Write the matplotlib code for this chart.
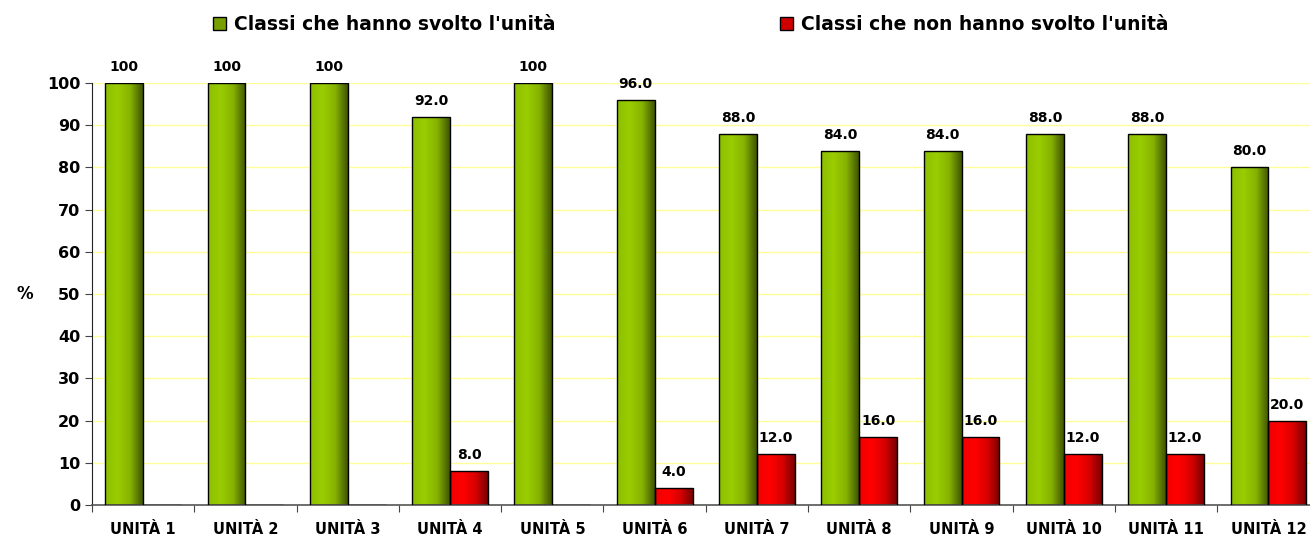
import numpy as np
import matplotlib
matplotlib.use('Agg')
import matplotlib.pyplot as plt
from matplotlib.colors import LinearSegmentedColormap
from matplotlib.patches import Patch

# dati
unita = ['UNITÀ 1', 'UNITÀ 2', 'UNITÀ 3', 'UNITÀ 4', 'UNITÀ 5', 'UNITÀ 6',
         'UNITÀ 7', 'UNITÀ 8', 'UNITÀ 9', 'UNITÀ 10', 'UNITÀ 11', 'UNITÀ 12']
svolto = [100, 100, 100, 92.0, 100, 96.0, 88.0, 84.0, 84.0, 88.0, 88.0, 80.0]
non_svolto = [0, 0, 0, 8.0, 0, 4.0, 12.0, 16.0, 16.0, 12.0, 12.0, 20.0]
nomi_serie = ["Classi che hanno svolto l'unità", "Classi che non hanno svolto l'unità"]

plt.rcParams['font.family'] = ['DejaVu Sans']
plt.rcParams['font.weight'] = 'bold'

cmap_verde = LinearSegmentedColormap.from_list('verde', ['#8CBF00', '#9ACD00', '#86B200', '#3E5300'])
cmap_rosso = LinearSegmentedColormap.from_list('rosso', ['#F00000', '#FF0000', '#D80000', '#780000'])
grad = np.linspace(0, 1, 256).reshape(1, -1)

fig = plt.figure(figsize=(13.1, 5.4), dpi=100)
ax = fig.add_axes([92 / 1310, 1 - 505 / 540, 1227.6 / 1310, (505 - 83) / 540])

x = np.arange(len(unita))
w = 0.37

for serie, dx, cmap in [(svolto, -w / 2, cmap_verde), (non_svolto, w / 2, cmap_rosso)]:
    bars = ax.bar(x + dx, serie, w, facecolor='none', edgecolor='black', linewidth=1, zorder=3)
    for b, v in zip(bars, serie):
        if v == 0:
            continue
        x0, y0 = b.get_x(), b.get_y()
        im = ax.imshow(grad, cmap=cmap, aspect='auto', zorder=2,
                       extent=[x0, x0 + b.get_width(), y0, y0 + b.get_height()])
        im.set_clip_path(b)
        testo = '100' if v == 100 else f'{v:.1f}'
        ax.annotate(testo, (x0 + b.get_width() / 2, v), xytext=(0, 16),
                    textcoords='offset pixels', ha='center', va='center',
                    fontsize=10, fontweight='bold', annotation_clip=False)

# limiti dopo imshow
ax.set_xlim(-0.5, len(unita) - 0.5)
ax.set_ylim(0, 100)

ax.set_yticks(np.arange(0, 101, 10))
ax.yaxis.grid(True, color='#FFFF99', linewidth=1, zorder=0)
ax.set_axisbelow(True)
ax.tick_params(axis='y', direction='out', length=5, pad=3.5, labelsize=11.5, color='#444444')

ax.set_xticks(np.arange(-0.5, len(unita), 1))
ax.set_xticklabels([])
ax.set_xticks(x, minor=True)
ax.set_xticklabels(unita, minor=True, fontsize=10.5, fontweight='bold')
ax.tick_params(axis='x', which='major', direction='out', length=5, color='#444444')
ax.tick_params(axis='x', which='minor', length=0, pad=12)

for s in ['top', 'right']:
    ax.spines[s].set_visible(False)
ax.spines['left'].set_color('#222222')
ax.spines['bottom'].set_color('#555555')
ax.spines['bottom'].set_linewidth(1.2)

ax.set_ylabel('%', rotation=0, fontsize=12, fontweight='bold', va='center', ha='center')
ax.yaxis.set_label_coords(-0.0546, 0.5)

handles = [Patch(facecolor='#78A000', edgecolor='black', linewidth=1),
           Patch(facecolor='#D00000', edgecolor='black', linewidth=1)]
fig.legend(handles, nomi_serie, loc='center left', bbox_to_anchor=(213 / 1310, 1 - 25 / 540),
           ncol=2, frameon=False, prop={'weight': 'bold', 'size': 13.5},
           handlelength=0.68, handleheight=0.68, handletextpad=0.42, columnspacing=12.0,
           borderpad=0, borderaxespad=0)

fig.savefig('out.png', dpi=100)
